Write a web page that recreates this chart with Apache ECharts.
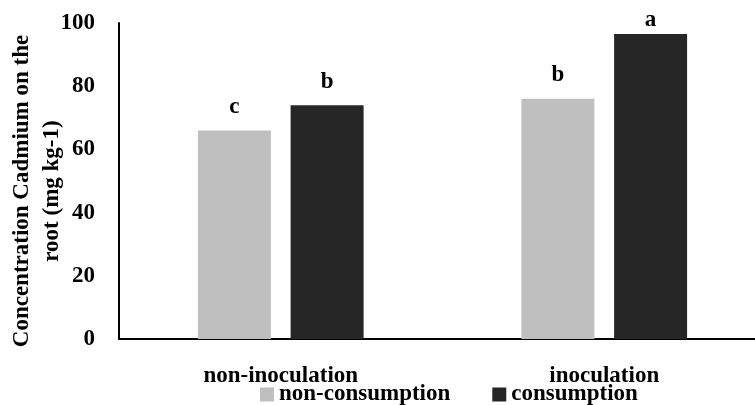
<!DOCTYPE html>
<html>
<head>
<meta charset="utf-8">
<script src="https://cdn.jsdelivr.net/npm/echarts@6/dist/echarts.min.js"></script>
<style>
  html, body { margin: 0; padding: 0; background: #fff; }
  #chart { width: 755px; height: 405px; }
</style>
</head>
<body>
<div id="chart"></div>
<script>
// data
const categories = ['non-inoculation', 'inoculation'];
const nonConsumption = [66, 76];
const consumption = [74, 96.5];
const nonConsumptionLetters = ['c', 'b'];
const consumptionLetters = ['b', 'a'];

const font = '"Liberation Serif", "Times New Roman", serif';
const fs = 23;

const chart = echarts.init(document.getElementById('chart'));

// letters sit above the bars; the tallest one gets pushed down to stay in the plot like in the original
function withLetters(values, letters) {
    return values.map((v, i) => ({
        value: v,
        label: {
            formatter: letters[i],
            distance: v > 90 ? 2 : 12
        }
    }));
}

const labelStyle = {
    show: true,
    position: 'top',
    color: '#000',
    fontFamily: font,
    fontWeight: 'bold',
    fontSize: fs
};

chart.setOption({
    animation: false,
    textStyle: { fontFamily: font },
    grid: {
        left: 119,
        right: -11,
        top: 23,
        bottom: 66,
        containLabel: false,
        outerBoundsMode: 'none'
    },
    legend: {
        top: 378,
        left: 255,
        itemWidth: 14,
        itemHeight: 14,
        itemGap: 42,
        itemStyle: { borderWidth: 0 },
        icon: 'rect',
        textStyle: {
            color: '#000',
            fontFamily: font,
            fontWeight: 'bold',
            fontSize: fs
        },
        data: ['non-consumption', 'consumption']
    },
    xAxis: {
        type: 'category',
        data: categories,
        axisTick: { show: false },
        axisLine: { lineStyle: { color: '#000', width: 2 } },
        axisLabel: {
            color: '#000',
            fontFamily: font,
            fontWeight: 'bold',
            fontSize: fs,
            margin: 26
        }
    },
    yAxis: {
        type: 'value',
        min: 0,
        max: 100,
        interval: 20,
        name: 'Concentration Cadmium on the\nroot (mg kg-1)',
        nameLocation: 'middle',
        nameGap: 52,
        nameMoveOverlap: false,
        nameTextStyle: {
            color: '#000',
            fontFamily: font,
            fontWeight: 'bold',
            fontSize: fs,
            lineHeight: 30,
            padding: [0, 20, 0, 0]
        },
        splitLine: { show: false },
        axisTick: { show: false },
        axisLine: { show: true, lineStyle: { color: '#000', width: 2 } },
        axisLabel: {
            color: '#000',
            fontFamily: font,
            fontWeight: 'bold',
            fontSize: fs,
            margin: 24
        }
    },
    series: [
        {
            name: 'non-consumption',
            type: 'bar',
            data: withLetters(nonConsumption, nonConsumptionLetters),
            barWidth: 73,
            barGap: '27%',
            itemStyle: { color: '#bfbfbf' },
            label: labelStyle
        },
        {
            name: 'consumption',
            type: 'bar',
            data: withLetters(consumption, consumptionLetters),
            barWidth: 73,
            itemStyle: { color: '#262626' },
            label: labelStyle
        }
    ]
});
</script>
</body>
</html>
